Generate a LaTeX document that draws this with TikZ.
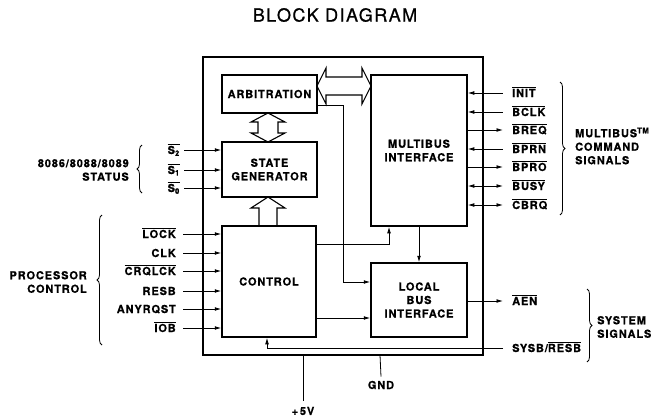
\documentclass[tikz,border=0pt]{standalone}
\usepackage{fontspec}
\setmainfont{TeX Gyre Heros}[LetterSpace=8]
\usetikzlibrary{arrows.meta,decorations.pathreplacing}
\newcommand\lblfont{\fontsize{11}{13.5}\selectfont\bfseries\addfontfeature{FakeBold=0.6}}
\newcommand\ovl[1]{$\overline{\hbox{#1}}$}
\tikzset{
  blk/.style={draw, line width=1.5pt, align=center, font=\lblfont, inner sep=0pt},
  sig/.style={font=\lblfont, inner sep=1pt, text height=8pt, text depth=0pt},
  grp/.style={font=\lblfont, inner sep=0pt},
  arr/.style={-{Latex[length=6.5pt,width=3.8pt]}, line width=0.8pt},
  barr/.style={{Latex[length=6.5pt,width=3.8pt]}-{Latex[length=6.5pt,width=3.8pt]}, line width=0.8pt},
  rarr/.style={{Latex[length=6.5pt,width=3.8pt]}-, line width=0.8pt},
  plain/.style={line width=0.8pt},
  hollow/.style={line width=1.1pt, line join=miter},
  brc/.style={decorate, decoration={brace, amplitude=5pt}, line width=0.8pt}
}
\begin{document}
\begin{tikzpicture}[x=1pt,y=-1pt]
\useasboundingbox (0,0) rectangle (655,418);

% title
\node[font=\fontsize{18}{21}\selectfont\addfontfeature{FakeBold=0.8}] (title) at (335,15) {BLOCK DIAGRAM};

% chip outline
\draw[line width=1.3pt] (203,57) rectangle (483,355);

% blocks
\node[blk, minimum width=95pt, minimum height=38pt] (arb) at (269.5,94) {ARBITRATION};
\node[blk, minimum width=95pt, minimum height=55pt] (sg) at (269.5,169.5) {STATE\\GENERATOR};
\node[blk, minimum width=94pt, minimum height=111pt] (ctl) at (269,281.5) {CONTROL};
\node[blk, minimum width=96pt, minimum height=151pt] (mb) at (419,150.5) {MULTIBUS\\INTERFACE};
\node[blk, minimum width=96pt, minimum height=74pt] (lb) at (419,300) {LOCAL\\BUS\\INTERFACE};

% hollow arrows
\draw[hollow] (317,86) -- (326,68) -- (326,77) -- (362,77) -- (362,68) -- (371,86)
  -- (362,104) -- (362,95) -- (326,95) -- (326,104) -- cycle;
\draw[hollow] (268,113) -- (285,122) -- (278,122) -- (278,133) -- (285,133) -- (268,142)
  -- (251,133) -- (258,133) -- (258,122) -- (251,122) -- cycle;
\draw[hollow] (259,226) -- (259,208) -- (251,208) -- (268,197) -- (285,208) -- (277,208) -- (277,226);

% internal connectors
\coordinate (c1) at (343,282);
\draw[arr] ([yshift=-11pt]arb.east) -| (c1) -- (lb.west |- c1);
\coordinate (c2) at (389,244);
\draw[arr] (ctl.east |- c2) -| (mb.south -| c2);
\coordinate (c3) at (0,318);
\draw[arr] (ctl.east |- c3) -- (lb.west |- c3);
\draw[arr] (mb.south) -- (lb.north);

% status inputs
\node[sig, anchor=east] (s2) at (181,150) {\ovl{S\textsubscript{2}}};
\node[sig, anchor=east] (s1) at (181,170) {\ovl{S\textsubscript{1}}};
\node[sig, anchor=east] (s0) at (181,188) {\ovl{S\textsubscript{0}}};
\foreach \s in {s2,s1,s0} \draw[arr] ([xshift=3pt]\s.east) -- (sg.west |- \s.east);
\draw[brc] (142,193) -- (142,145);
\node[grp, anchor=east, align=right] (stat) at (129,170) {8086/8088/8089\\STATUS};

% processor control inputs
\node[sig, anchor=east] (lock) at (177,234) {\ovl{LOCK}};
\node[sig, anchor=east] (clk) at (177,253) {CLK};
\node[sig, anchor=east] (crq) at (177,271) {\ovl{CRQLCK}};
\node[sig, anchor=east] (resb) at (177,291) {RESB};
\node[sig, anchor=east] (any) at (177,309) {ANYRQST};
\node[sig, anchor=east] (iob) at (177,328) {\ovl{IOB}};
\foreach \s in {lock,clk,crq,resb,any,iob} \draw[arr] ([xshift=6pt]\s.east) -- (ctl.west |- \s.east);
\draw[brc] (102,345) -- (102,215);
\node[grp, anchor=east, align=right] (pc) at (87,282) {PROCESSOR\\CONTROL};

% multibus signals
\node[sig, anchor=west] (init) at (511,93) {\ovl{INIT}};
\node[sig, anchor=west] (bclk) at (511,112) {\ovl{BCLK}};
\node[sig, anchor=west] (breq) at (511,130) {\ovl{BREQ}};
\node[sig, anchor=west] (bprn) at (511,149) {\ovl{BPRN}};
\node[sig, anchor=west] (bpro) at (511,167) {\ovl{BPRO}};
\node[sig, anchor=west] (busy) at (511,186) {\ovl{BUSY}};
\node[sig, anchor=west] (cbrq) at (511,205) {\ovl{CBRQ}};
\draw[rarr] (mb.east |- init.west) -- ([xshift=-8pt]init.west);
\draw[rarr] (mb.east |- bclk.west) -- ([xshift=-8pt]bclk.west);
\draw[arr]  (mb.east |- breq.west) -- ([xshift=-8pt]breq.west);
\draw[rarr] (mb.east |- bprn.west) -- ([xshift=-8pt]bprn.west);
\draw[arr]  (mb.east |- bpro.west) -- ([xshift=-8pt]bpro.west);
\draw[barr] (mb.east |- busy.west) -- ([xshift=-8pt]busy.west);
\draw[barr] (mb.east |- cbrq.west) -- ([xshift=-8pt]cbrq.west);
\draw[brc] (560,82) -- (560,215);
\node[grp, anchor=west, align=left] (mbl) at (575,146) {MULTIBUS\textsuperscript{TM}\\COMMAND\\SIGNALS};

% system signals
\node[sig, anchor=west] (aen) at (511,301) {\ovl{AEN}};
\draw[arr] (lb.east |- aen.west) -- ([xshift=-8pt]aen.west);
\node[sig, anchor=west] (sysb) at (511,348) {SYSB/\ovl{RESB}};
\draw[arr] ([xshift=-8pt]sysb.west) -| ([xshift=-2pt]ctl.south);
\draw[brc] (587,289) -- (587,362);
\node[grp, anchor=west, align=left] (sys) at (597,327) {SYSTEM\\SIGNALS};

% power
\coordinate (pwr) at (303,355);
\coordinate (gndp) at (380,355);
\node[grp] (v5) at (303,411) {+\,5V};
\node[grp] (gnd) at (381,385) {GND};
\draw[plain] (pwr) -- ([yshift=6pt]v5.north);
\draw[plain] (gndp) -- ([yshift=4pt]gnd.north);
\end{tikzpicture}
\end{document}
